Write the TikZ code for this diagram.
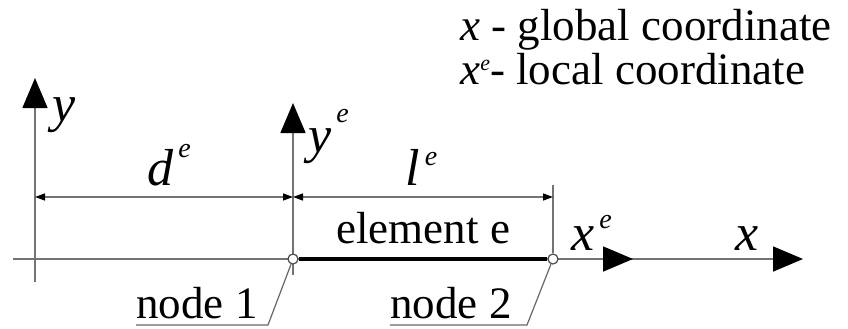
\documentclass[tikz,border=0pt]{standalone}
\usepackage{fontspec}
\setmainfont{Liberation Serif}
\usetikzlibrary{arrows.meta}
\newcommand{\supe}[1]{\hspace{2.5pt}\raisebox{#1}{\fontsize{14}{14}\selectfont\itshape e}}
\begin{document}
\begin{tikzpicture}[x=0.5pt,y=-0.5pt,
    axis/.style={black!55,line width=0.8pt,-{Triangle[length=15pt,width=12.5pt,color=black]}},
    extline/.style={black!55,line width=0.7pt},
    dim/.style={black!55,line width=0.7pt,{Triangle[length=5pt,width=3.5pt,color=black]}-{Triangle[length=5pt,width=3.5pt,color=black]}},
    elem/.style={line width=2pt},
    joint/.style={circle,draw=black!70,fill=white,line width=0.6pt,inner sep=0pt,minimum size=5pt},
    lbl/.style={inner sep=0pt,anchor=base west,font=\fontsize{22.5}{26}\selectfont},
    leg/.style={inner sep=0pt,anchor=base west,font=\fontsize{22.5}{26}\selectfont},
    sym/.style={inner sep=0pt,anchor=base west,font=\fontsize{26}{30}\selectfont\itshape},
    leader/.style={black!60,line width=0.6pt}]
    \useasboundingbox (0,0) rectangle (848,328);

    % global and local axes
    \coordinate (gx0) at (13,259);
    \coordinate (gx1) at (803,259);
    \coordinate (gy0) at (35,282);
    \coordinate (gy1) at (35,78);
    \coordinate (ly0) at (293,275);
    \coordinate (ly1) at (293,103);
    \coordinate (lx1) at (633,259);
    \draw[axis] (gx0) -- (gx1);
    \draw[axis] (gy0) -- (gy1);
    \draw[axis] (ly0) -- (ly1);

    % element with its two nodes
    \node[joint] (n1) at (293,259) {};
    \node[joint] (n2) at (553,259) {};
    \draw[axis] (n2) -- (lx1);
    \draw[elem] (n1) -- (n2);

    % dimensions
    \coordinate (d0) at (35,197);
    \coordinate (d1) at (293,197);
    \coordinate (d2) at (553,197);
    \coordinate (e2) at (553,185);
    \draw[extline] (e2) -- (n2);
    \draw[dim] (d0) -- (d1);
    \draw[dim] (d1) -- (d2);

    % axis and dimension labels
    \node[sym] (ylab) at (52,121) {y};
    \node[sym] (yelab) at (308,152) {y\supe{15pt}};
    \node[sym] (delab) at (147,185) {d\supe{14pt}};
    \node[sym] (lelab) at (405,185) {l\supe{10pt}};
    \node[lbl] (elab) at (336,243) {element e};
    \node[sym] (xelab) at (571,250) {x\supe{11pt}};
    \node[sym] (xlab) at (735,250) {x};

    % node labels with leaders
    \node[lbl] (lab1) at (136,318) {node 1};
    \coordinate (k1) at (268,325);
    \draw[leader] (lab1.west |- k1) -- (k1) -- (n1);
    \node[lbl] (lab2) at (390,318) {node 2};
    \coordinate (k2) at (527,325);
    \draw[leader] (lab2.west |- k2) -- (k2) -- (n2);

    % legend
    \node[leg] (leg1) at (460,40) {\textit{x} - global coordinate};
    \node[leg] (leg2) at (460,84) {\textit{x}\raisebox{7pt}{\fontsize{11}{11}\selectfont\itshape e}- local coordinate};
\end{tikzpicture}
\end{document}
